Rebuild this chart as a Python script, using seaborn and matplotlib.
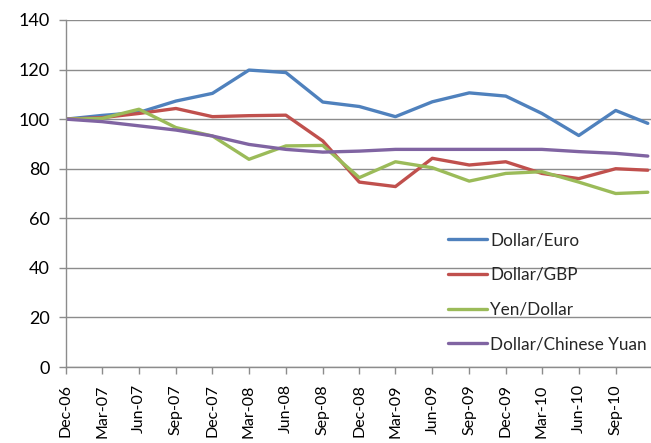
import matplotlib
matplotlib.use("Agg")
import matplotlib.pyplot as plt
import matplotlib.dates as mdates
import pandas as pd
import seaborn as sns

# ---- data ----
dates = ["2006-12-01", "2007-03-01", "2007-06-01", "2007-09-01", "2007-12-01",
         "2008-03-01", "2008-06-01", "2008-09-01", "2008-12-01", "2009-03-01",
         "2009-06-01", "2009-09-01", "2009-12-01", "2010-03-01", "2010-06-01",
         "2010-09-01", "2010-11-20"]
dollar_euro = [100, 101.5, 102.7, 107.3, 110.4, 119.8, 118.8, 106.9, 105.1, 101.0,
               107.0, 110.6, 109.3, 102.3, 93.4, 103.5, 98.3]
dollar_gbp = [100, 100.6, 102.3, 104.3, 101.0, 101.4, 101.6, 91.2, 74.6, 72.8,
              84.2, 81.5, 82.8, 78.1, 76.0, 80.0, 79.4]
yen_dollar = [100, 100.3, 104.0, 96.6, 93.2, 83.8, 89.2, 89.4, 76.4, 82.8,
              80.4, 75.0, 78.1, 78.8, 74.6, 70.0, 70.5]
dollar_yuan = [100, 99.0, 97.3, 95.6, 93.2, 89.8, 87.8, 86.7, 87.1, 87.8,
               87.8, 87.8, 87.8, 87.8, 86.9, 86.2, 85.1]
series_names = ["Dollar/Euro", "Dollar/GBP", "Yen/Dollar", "Dollar/Chinese Yuan"]
colors = ["#4F81BD", "#C0504D", "#9BBB59", "#8064A2"]
y_ticks = [0, 20, 40, 60, 80, 100, 120, 140]

# ---- long-form table ----
frames = []
for name, vals in zip(series_names, [dollar_euro, dollar_gbp, yen_dollar, dollar_yuan]):
    frames.append(pd.DataFrame({"date": pd.to_datetime(dates), "value": vals, "series": name}))
df = pd.concat(frames, ignore_index=True)

sns.set_theme(style="white")
plt.rcParams["font.family"] = ["Lato", "DejaVu Sans"]

fig = plt.figure(figsize=(6.51, 4.43), dpi=100)
ax = fig.add_axes([66 / 651, 1 - 367 / 443, 1 - 66 / 651, (367 - 20) / 443])

sns.lineplot(data=df, x="date", y="value", hue="series", hue_order=series_names,
             palette=colors, linewidth=2.4, ax=ax, legend=True)

ax.set_ylim(0, 140)
ax.set_yticks(y_ticks)
ax.set_xlim(pd.Timestamp("2006-12-01"), pd.Timestamp("2010-11-28"))
ax.xaxis.set_major_locator(mdates.MonthLocator(bymonth=[3, 6, 9, 12]))
ax.xaxis.set_major_formatter(mdates.DateFormatter("%b-%y"))
ax.set_xlabel("")
ax.set_ylabel("")

ax.grid(axis="y", color="#8c8c8c", linewidth=1.0)
ax.set_axisbelow(True)
for s in ["top", "right"]:
    ax.spines[s].set_visible(False)
for s in ["left", "bottom"]:
    ax.spines[s].set_color("#8c8c8c")
    ax.spines[s].set_linewidth(1.0)

ax.tick_params(axis="y", direction="out", length=5, width=1, color="#8c8c8c",
               labelsize=13, pad=6.5, left=True, labelcolor="black")
ax.tick_params(axis="x", direction="out", length=5, width=1, color="#8c8c8c",
               labelsize=11.5, pad=7.5, bottom=True, labelrotation=90, labelcolor="black")
for lab in ax.get_xticklabels():
    lab.set_verticalalignment("top")

leg = ax.legend(loc="upper left", bbox_to_anchor=(448 / 651, 1 - 232 / 443),
                bbox_transform=fig.transFigure, frameon=False, fontsize=12.3,
                handlelength=2.3, handletextpad=0.18, labelspacing=1.1,
                borderaxespad=0, borderpad=0)
for line in leg.get_lines():
    line.set_linewidth(2.4)

fig.savefig("out.png", dpi=100)
